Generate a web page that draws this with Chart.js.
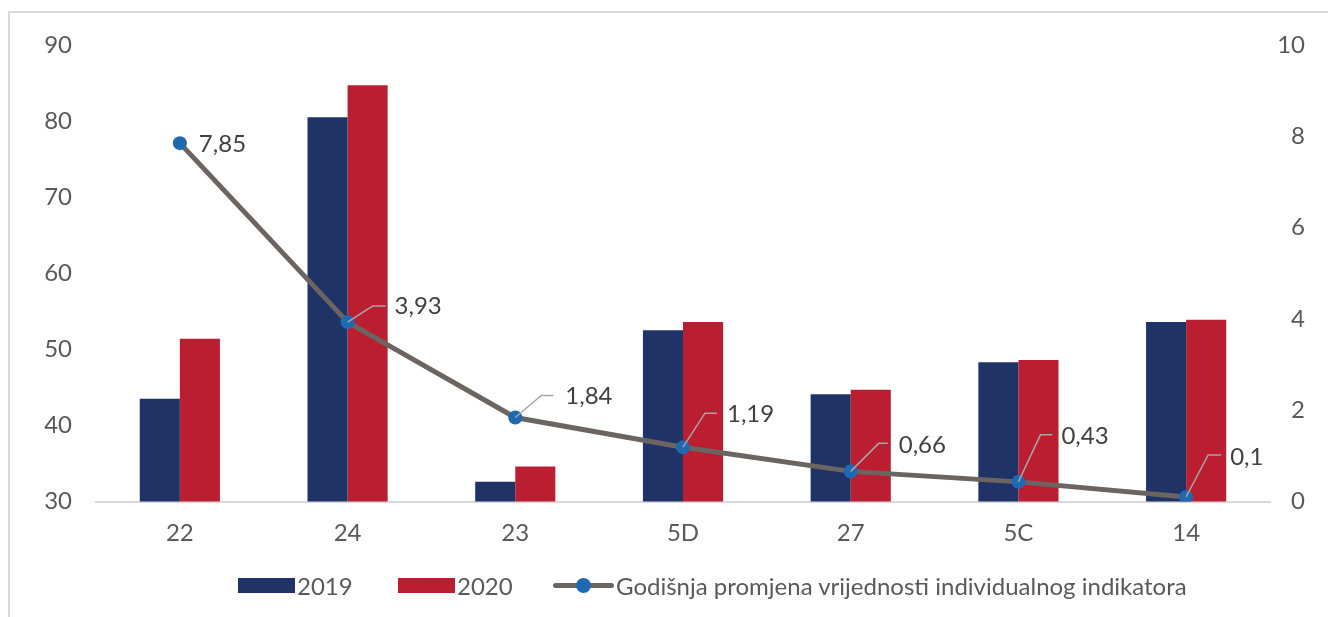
<!DOCTYPE html>
<html>
<head>
<meta charset="utf-8">
<script src="https://cdn.jsdelivr.net/npm/chart.js@4/dist/chart.umd.min.js"></script>
<style>
  html, body { margin: 0; padding: 0; background: #fff; }
  body { width: 1328px; height: 617px; position: relative; overflow: hidden; font-family: Lato, "Open Sans", sans-serif; }
  #frame { position: absolute; left: 8px; top: 11px; width: 1400px; height: 700px; border-left: 2px solid #d9d9d9; border-top: 2px solid #d9d9d9; box-sizing: border-box; }
  #wrap { position: absolute; left: 0; top: 0; width: 1328px; height: 617px; }
  #legend { position: absolute; top: 572px; left: 0; width: 1328px; height: 26px; font-size: 24px; color: #595959; }
  .li { position: absolute; top: 0; height: 26px; display: flex; align-items: center; white-space: nowrap; }
  .box { width: 57px; height: 15px; margin-right: 2px; }
  .lsym { position: relative; width: 61px; height: 26px; margin-right: 2px; }
  .lsym .ln { position: absolute; left: 0; right: 0; top: 11px; height: 5px; border-radius: 3px; }
  .lsym .dt { position: absolute; left: 23px; top: 6px; width: 15px; height: 15px; border-radius: 50%; }
</style>
</head>
<body>
<div id="frame"></div>
<div id="wrap"><canvas id="c" width="1328" height="617"></canvas></div>
<div id="legend"></div>
<script>
const categories = ["22", "24", "23", "5D", "27", "5C", "14"];
const values2019 = [43.5, 80.5, 32.6, 52.5, 44.1, 48.3, 53.6];
const values2020 = [51.4, 84.7, 34.6, 53.6, 44.7, 48.6, 53.9];
const annualChange = [7.85, 3.93, 1.84, 1.19, 0.66, 0.43, 0.1];
const changeLabels = ["7,85", "3,93", "1,84", "1,19", "0,66", "0,43", "0,1"];
const seriesNames = ["2019", "2020", "Godišnja promjena vrijednosti individualnog indikatora"];

// label placement (styling): [elbow dx, elbow dy, horizontal length, text dx, text dy]; null elbow = no leader
const labelPlacement = [
  [null, null, 0, 19, 1],
  [25, -16, 13, 47, -16],
  [26, -22, 12, 50, -21],
  [22, -34, 12, 44, -33],
  [28, -28, 9, 48, -26],
  [22, -47, 12, 43, -46],
  [22, -42, 13, 44, -40]
];

const FONT = "Lato, 'Open Sans', sans-serif";
const FS = 24;
const C2019 = "#1f3366", C2020 = "#bb1e30", CLINE = "#6b6461", CPT = "#1f69b3";

const labelPlugin = {
  id: "lineLabels",
  afterDatasetsDraw(chart) {
    const meta = chart.getDatasetMeta(2);
    const ctx = chart.ctx;
    ctx.save();
    meta.data.forEach((pt, i) => {
      const p = labelPlacement[i];
      const x = pt.x, y = pt.y;
      if (p[0] !== null) {
        ctx.strokeStyle = "#a6a6a6";
        ctx.lineWidth = 1.5;
        ctx.beginPath();
        ctx.moveTo(x, y);
        ctx.lineTo(x + p[0], y + p[1]);
        ctx.lineTo(x + p[0] + p[2], y + p[1]);
        ctx.stroke();
      }
      ctx.fillStyle = "#404040";
      ctx.font = FS + "px " + FONT;
      ctx.textAlign = "left";
      ctx.textBaseline = "middle";
      ctx.fillText(changeLabels[i], x + p[3], y + p[4]);
    });
    ctx.restore();
  }
};

const chart = new Chart(document.getElementById("c"), {
  data: {
    labels: categories,
    datasets: [
      { type: "bar", label: seriesNames[0], data: values2019, backgroundColor: C2019, yAxisID: "y", order: 2,
        categoryPercentage: 0.478, barPercentage: 1.0, borderWidth: 0 },
      { type: "bar", label: seriesNames[1], data: values2020, backgroundColor: C2020, yAxisID: "y", order: 2,
        categoryPercentage: 0.478, barPercentage: 1.0, borderWidth: 0 },
      { type: "line", label: seriesNames[2], data: annualChange, yAxisID: "y2", order: 1,
        borderColor: CLINE, borderWidth: 5, backgroundColor: CPT, pointBackgroundColor: CPT,
        pointBorderColor: CPT, pointRadius: 7, pointBorderWidth: 0, tension: 0 }
    ]
  },
  options: {
    responsive: false,
    animation: false,
    layout: { padding: { left: 0, right: 23, top: 45, bottom: 0 } },
    plugins: { legend: { display: false }, tooltip: { enabled: false } },
    scales: {
      x: {
        grid: { display: false, drawTicks: false },
        border: { display: true, color: "#d9d9d9", width: 2 },
        ticks: { color: "#595959", font: { family: FONT, size: FS }, padding: 17 },
        afterFit(s) { s.height = 115.5; }
      },
      y: {
        position: "left", min: 30, max: 90,
        grid: { display: false, drawTicks: false },
        border: { display: false },
        ticks: { stepSize: 10, color: "#595959", font: { family: FONT, size: FS }, padding: 24 },
        afterFit(s) { s.width = 96; }
      },
      y2: {
        position: "right", min: 0, max: 10,
        grid: { display: false, drawTicks: false },
        border: { display: false },
        ticks: { stepSize: 2, color: "#595959", font: { family: FONT, size: FS }, crossAlign: "far" },
        afterFit(s) { s.width = 35; }
      }
    }
  },
  plugins: [labelPlugin]
});

// HTML legend built from dataset definitions
const legend = document.getElementById("legend");
const legendX = [238, 398, 553];
chart.data.datasets.forEach((ds, i) => {
  const item = document.createElement("div");
  item.className = "li";
  item.style.left = legendX[i] + "px";
  if (ds.type === "bar") {
    const b = document.createElement("div");
    b.className = "box";
    b.style.background = ds.backgroundColor;
    item.appendChild(b);
  } else {
    const s = document.createElement("div");
    s.className = "lsym";
    const ln = document.createElement("div"); ln.className = "ln"; ln.style.background = ds.borderColor;
    const dt = document.createElement("div"); dt.className = "dt"; dt.style.background = ds.pointBackgroundColor;
    s.appendChild(ln); s.appendChild(dt);
    item.appendChild(s);
  }
  const t = document.createElement("span");
  t.textContent = ds.label;
  item.appendChild(t);
  legend.appendChild(item);
});
</script>
</body>
</html>
